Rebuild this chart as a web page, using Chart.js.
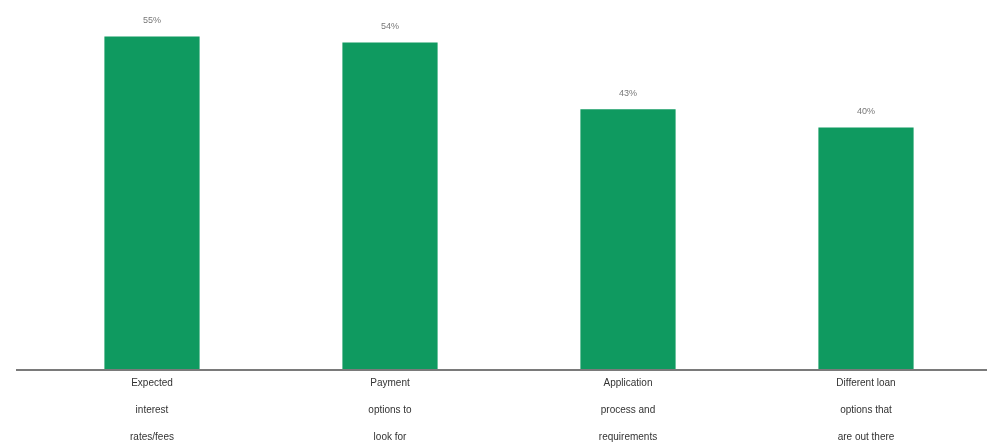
<!DOCTYPE html>
<html lang="en">
<head>
  <meta charset="UTF-8" />
  <title>Loan research topics</title>
  <script src="https://cdn.jsdelivr.net/npm/chart.js"></script>
  <style>
    html, body {
      margin: 0;
      padding: 0;
      background: #fff;
    }
    #wrap {
      width: 987px;
      height: 448px;
    }
  </style>
</head>
<body>
  <div id="wrap"><canvas id="loanChart"></canvas></div>

  <script>
    const categories = [
      ['Expected', 'interest', 'rates/fees'],
      ['Payment', 'options to', 'look for'],
      ['Application', 'process and', 'requirements'],
      ['Different loan', 'options that', 'are out there']
    ];
    const percents = [55, 54, 43, 40];

    // values above the bars
    const valueLabels = {
      id: 'valueLabels',
      afterDatasetsDraw(chart) {
        const ctx = chart.ctx;
        const meta = chart.getDatasetMeta(0);
        ctx.save();
        ctx.font = '9px "Liberation Sans", Arial, sans-serif';
        ctx.fillStyle = '#777';
        ctx.textAlign = 'center';
        ctx.textBaseline = 'bottom';
        meta.data.forEach((bar, i) => {
          ctx.fillText(percents[i] + '%', bar.x, bar.y - 11);
        });
        ctx.restore();
      }
    };

    // baseline runs wider than the bar area
    const baseline = {
      id: 'baseline',
      afterDatasetsDraw(chart) {
        const ctx = chart.ctx;
        const y = chart.scales.y.getPixelForValue(0);
        ctx.save();
        ctx.strokeStyle = '#7a7a7a';
        ctx.lineWidth = 2;
        ctx.beginPath();
        ctx.moveTo(16, y);
        ctx.lineTo(chart.width, y);
        ctx.stroke();
        ctx.restore();
      }
    };

    new Chart(document.getElementById('loanChart'), {
      type: 'bar',
      data: {
        labels: categories,
        datasets: [{
          data: percents,
          backgroundColor: '#0f9a60',
          barPercentage: 0.4,
          categoryPercentage: 1
        }]
      },
      options: {
        responsive: true,
        maintainAspectRatio: false,
        animation: false,
        layout: { padding: { left: 33, right: 2, top: 0, bottom: 0 } },
        plugins: {
          legend: { display: false },
          tooltip: { enabled: false }
        },
        scales: {
          x: {
            grid: { display: false, drawTicks: false },
            border: { display: false },
            ticks: {
              color: '#333',
              padding: 0,
              maxRotation: 0,
              autoSkip: false,
              font: { family: '"Liberation Sans", Arial, sans-serif', size: 10, lineHeight: 2.7 }
            },
            afterFit(scale) { scale.height = 78; }
          },
          y: {
            display: false,
            min: 0,
            max: 61
          }
        }
      },
      plugins: [valueLabels, baseline]
    });
  </script>
</body>
</html>
